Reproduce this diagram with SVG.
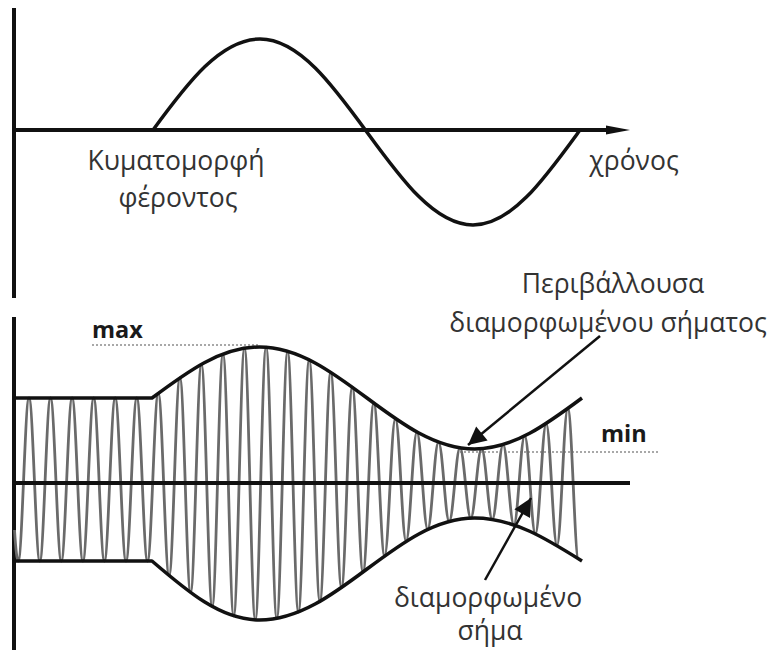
<svg xmlns="http://www.w3.org/2000/svg" width="783" height="653" viewBox="0 0 783 653">
<style>
.axis{stroke:#111;stroke-width:4;fill:none}
.curve{stroke:#111;stroke-width:3.5;fill:none;stroke-linejoin:round}
.carrier{stroke:#6a6a6a;stroke-width:2.8;fill:none}
.dots{stroke:#a8a8a8;stroke-width:2;stroke-dasharray:2 2;fill:none}
.lbl{font-family:"Open Sans","Noto Sans",sans-serif;font-size:26.5px;fill:#333;text-anchor:middle}
.bold{font-family:"Open Sans","Noto Sans",sans-serif;font-size:23.5px;font-weight:bold;fill:#1a1a1a}
.ptr{stroke:#111;stroke-width:2.5;fill:none}
</style>
<defs>
<marker id="big" viewBox="0 0 10 10" refX="10" refY="5" markerWidth="24" markerHeight="18" markerUnits="userSpaceOnUse" orient="auto"><path d="M0,0 L10,5 L0,10 Z" fill="#111"/></marker>
</defs>
<rect width="783" height="653" fill="#fff"/>
<g id="carrier-plot">
<line class="axis" x1="14" y1="8" x2="14" y2="298"/>
<line class="axis" x1="14" y1="130" x2="612" y2="130"/>
<path d="M606,125.5 L630,130 L606,134.5 Z" fill="#111"/>
<path class="curve" d="M153,130 C188,82 221,39 260,39 C338,39 396,225 473,225 C512,225 545,178 580,130"/>
</g>
<g id="carrier-label">
<text class="lbl" x="176" y="170">Κυματομορφή</text>
<text class="lbl" x="178" y="207">φέροντος</text>
</g>
<g id="time-label">
<text class="lbl" x="634" y="170">χρόνος</text>
</g>
<g id="am-plot">
<line class="axis" x1="14" y1="317" x2="14" y2="650"/>
<line class="dots" x1="92" y1="345" x2="258" y2="345"/>
<line class="dots" x1="460" y1="452" x2="658" y2="452"/>
<path class="carrier" d="M14.5,530 Q16.5,561 18.2,561 C22.1,561 25.1,398 29,398 S35.9,561 39.8,561 S46.6,398 50.5,398 S57.4,561 61.3,561 S68.2,398 72.1,398 S79,561 82.9,561 S89.8,398 93.7,398 S100.5,561 104.4,561 S111.3,398 115.2,398 S122.1,561 126,561 S132.9,398 136.8,398 S143.6,561 147.5,561 S154.4,393.3 158.3,393.3 S165.2,575.6 169.1,575.6 S175.9,377.8 179.9,377.8 S186.7,592.5 190.6,592.5 S197.5,364.3 201.4,364.3 S208.3,606.5 212.2,606.5 S219,354.1 223,354.1 S229.8,615.9 233.7,615.9 S240.6,348.2 244.5,348.2 S251.4,619.9 255.3,619.9 S262.1,347.2 266.1,347.2 S272.9,618.4 276.8,618.4 S283.7,351.3 287.6,351.3 S294.5,612 298.4,612 S305.2,359.8 309.2,359.8 S316,601.4 319.9,601.4 S326.8,372.1 330.7,372.1 S337.6,587.6 341.5,587.6 S348.3,387.1 352.3,387.1 S359.1,572 363,572 S369.9,403.1 373.8,403.1 S380.7,556 384.6,556 S391.4,418.5 395.4,418.5 S402.2,541.3 406.1,541.3 S413,432.1 416.9,432.1 S423.8,529.3 427.7,529.3 S434.5,442.2 438.5,442.2 S445.3,521.5 449.2,521.5 S456.1,447.8 460,447.8 S466.9,518.1 470.8,518.1 S477.6,448.7 481.6,448.7 S488.4,519.4 492.3,519.4 S499.2,444.6 503.1,444.6 S510,524.9 513.9,524.9 S520.7,435.9 524.7,435.9 S531.5,533.9 535.4,533.9 S542.3,423.6 546.2,423.6 S553.1,545.6 557,545.6 S563.8,408.5 567.8,408.5 S574.6,558.8 578.5,558.8"/>
<line class="axis" x1="14" y1="483" x2="630" y2="483"/>
<path class="curve" d="M14,398 L152,398 C187.1,371.9 220.6,347 259.5,347 C337.8,347 396.2,449 474.5,449 C513.4,449 546.9,424.1 582,398"/>
<path class="curve" d="M14,561 L152,561 C187.1,591.2 220.6,620 259.5,620 C337.8,620 396.2,518 474.5,518 C513.4,518 546.9,539 582,561"/>
</g>
<g id="max-label"><text class="bold" x="92" y="338">max</text></g>
<g id="min-label"><text class="bold" x="601" y="442">min</text></g>
<g id="envelope-label">
<text class="lbl" x="613" y="293">Περιβάλλουσα</text>
<text class="lbl" x="608" y="332">διαμορφωμένου σήματος</text>
</g>
<g id="signal-label">
<text class="lbl" x="488" y="607">διαμορφωμένο</text>
<text class="lbl" x="490" y="640">σήμα</text>
</g>
<g id="connectors">
<line class="ptr" x1="600" y1="336" x2="468" y2="445" marker-end="url(#big)"/>
<line class="ptr" x1="485" y1="580" x2="531" y2="498" marker-end="url(#big)"/>
</g>
</svg>
